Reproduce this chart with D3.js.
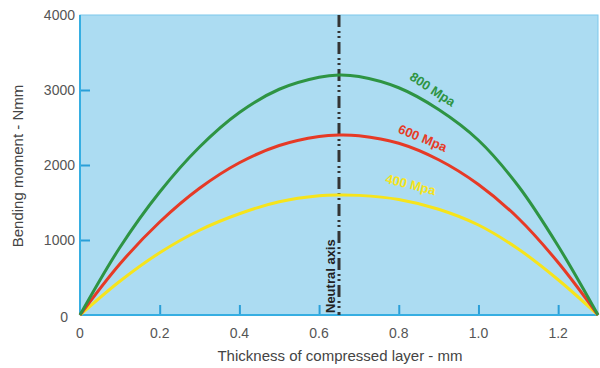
<!DOCTYPE html>
<html>
<head>
<meta charset="utf-8">
<script src="https://cdn.jsdelivr.net/npm/d3@7/dist/d3.min.js"></script>
<style>
  body { margin: 0; background: #fff; }
  text { font-family: "Liberation Sans", Arial, sans-serif; }
</style>
</head>
<body>
<div id="chart"></div>
<script>
// thickness values (mm)
var thickness = [0, 0.1, 0.2, 0.3, 0.4, 0.5, 0.6, 0.65, 0.7, 0.8, 0.9, 1.0, 1.1, 1.2, 1.3];
var mpa800 = [0, 900, 1640, 2240, 2700, 3010, 3170, 3200, 3180, 3030, 2740, 2330, 1720, 920, 0];
var mpa600 = [0, 680, 1240, 1690, 2030, 2260, 2380, 2400, 2390, 2290, 2070, 1740, 1290, 700, 0];
var mpa400 = [0, 450, 830, 1130, 1350, 1510, 1590, 1600, 1595, 1540, 1410, 1200, 880, 470, 0];
var xTicks = [0, 0.2, 0.4, 0.6, 0.8, 1.0, 1.2];
var yTicks = [0, 1000, 2000, 3000, 4000];
var neutralAxis = 0.65;

var width = 600, height = 368;
var plotLeft = 80, plotRight = 598, plotTop = 15, plotBottom = 315;

var svg = d3.select("#chart").append("svg")
  .attr("width", width)
  .attr("height", height);

var x = d3.scaleLinear().domain([0, 1.3]).range([plotLeft, plotRight]);
var y = d3.scaleLinear().domain([0, 4000]).range([plotBottom, plotTop]);

// plot background
svg.append("rect")
  .attr("x", plotLeft).attr("y", plotTop)
  .attr("width", plotRight - plotLeft).attr("height", plotBottom - plotTop)
  .attr("fill", "#acdcf2")
  .attr("stroke", "#7cc8ec")
  .attr("stroke-width", 1);

// inward ticks
var xAxis = d3.axisTop(x).tickValues(xTicks.slice(1)).tickSize(10).tickFormat("");
var gx = svg.append("g").attr("transform", "translate(0," + plotBottom + ")").call(xAxis);
var yAxis = d3.axisRight(y).tickValues(yTicks.slice(1, 4)).tickSize(10).tickFormat("");
var gy = svg.append("g").attr("transform", "translate(" + plotLeft + ",0)").call(yAxis);
[gx, gy].forEach(function (g) {
  g.select(".domain").remove();
  g.selectAll("line").attr("stroke", "#2a9fd8").attr("stroke-width", 2);
});

// left and bottom border
svg.append("line").attr("x1", plotLeft).attr("x2", plotLeft).attr("y1", plotTop).attr("y2", plotBottom)
  .attr("stroke", "#36aee2").attr("stroke-width", 2);
svg.append("line").attr("x1", plotLeft).attr("x2", plotRight).attr("y1", plotBottom).attr("y2", plotBottom)
  .attr("stroke", "#36aee2").attr("stroke-width", 2);

// tick labels
svg.selectAll(".xl").data(xTicks).enter().append("text")
  .attr("x", function (d) { return x(d); })
  .attr("y", 338)
  .attr("text-anchor", "middle")
  .attr("font-size", 14)
  .attr("fill", "#555")
  .text(function (d) { return d === 0 ? "0" : d.toFixed(1); });

svg.selectAll(".yl").data(yTicks).enter().append("text")
  .attr("x", function (d) { return d === 0 ? 68 : 75; })
  .attr("y", function (d) { return y(d) + (d === 0 ? 7 : 5); })
  .attr("text-anchor", "end")
  .attr("font-size", 14)
  .attr("fill", "#555")
  .text(function (d) { return d; });

// axis titles
svg.append("text")
  .attr("x", 340).attr("y", 361)
  .attr("text-anchor", "middle")
  .attr("font-size", 15)
  .attr("fill", "#444")
  .text("Thickness of compressed layer - mm");

svg.append("text")
  .attr("transform", "translate(23,166) rotate(-90)")
  .attr("text-anchor", "middle")
  .attr("font-size", 15)
  .attr("fill", "#444")
  .text("Bending moment - Nmm");

// neutral axis
svg.append("line")
  .attr("x1", x(neutralAxis)).attr("x2", x(neutralAxis))
  .attr("y1", plotTop).attr("y2", plotBottom)
  .attr("stroke", "#333")
  .attr("stroke-width", 3)
  .attr("stroke-dasharray", "12,4,2,3,2,4");

svg.append("text")
  .attr("transform", "translate(" + (x(neutralAxis) - 4) + "," + (plotBottom - 2) + ") rotate(-90)")
  .attr("font-size", 13)
  .attr("font-weight", "bold")
  .attr("fill", "#222")
  .text("Neutral axis");

// curves
var series = [
  { name: "400 Mpa", values: mpa400, color: "#f6e41c" },
  { name: "600 Mpa", values: mpa600, color: "#e63a26" },
  { name: "800 Mpa", values: mpa800, color: "#2e9443" }
];

var line = d3.line()
  .x(function (d, i) { return x(thickness[i]); })
  .y(function (d) { return y(d); })
  .curve(d3.curveCatmullRom.alpha(0.5));

svg.selectAll(".curve").data(series).enter().append("path")
  .attr("d", function (d) { return line(d.values); })
  .attr("fill", "none")
  .attr("stroke", function (d) { return d.color; })
  .attr("stroke-width", 3);

// curve labels
var labels = [
  { text: "800 Mpa", color: "#2e9443", at: 0.885, val: 3010, angle: 33 },
  { text: "600 Mpa", color: "#e63a26", at: 0.86, val: 2360, angle: 22 },
  { text: "400 Mpa", color: "#f6e41c", at: 0.83, val: 1740, angle: 14 }
];
svg.selectAll(".lbl").data(labels).enter().append("text")
  .attr("transform", function (d) {
    return "translate(" + x(d.at) + "," + y(d.val) + ") rotate(" + d.angle + ")";
  })
  .attr("text-anchor", "middle")
  .attr("dy", "0.35em")
  .attr("font-size", 13)
  .attr("font-weight", "bold")
  .attr("fill", function (d) { return d.color; })
  .text(function (d) { return d.text; });
</script>
</body>
</html>
